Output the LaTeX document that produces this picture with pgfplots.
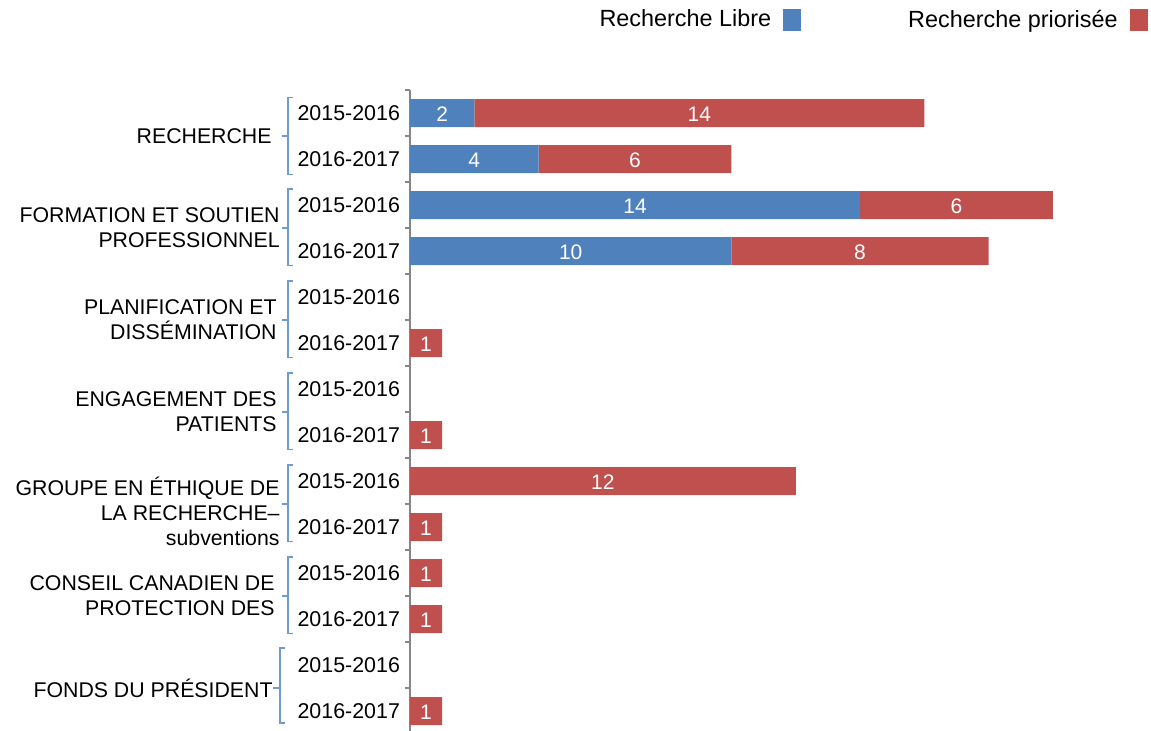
\documentclass[border=0pt]{standalone}
\usepackage{fontspec}
\setmainfont{Liberation Sans}
\usepackage{pgfplots}
\pgfplotsset{compat=1.18}
\definecolor{libre}{HTML}{4F81BD}
\definecolor{prio}{HTML}{C0504D}
\definecolor{brkblue}{HTML}{6F9BD3}
\definecolor{axgray}{HTML}{868686}

\tikzset{
  grplabel/.style={anchor=east, align=right, inner sep=0pt, font=\fontsize{10.65}{12.5}\selectfont},
  barlabel/.style={white, inner sep=0pt, yshift=-0.8pt, font=\fontsize{10.5}{12}\selectfont},
  brkline/.style={brkblue, line width=0.6pt},
}

\begin{document}
\begin{tikzpicture}
\useasboundingbox (0pt,0pt) rectangle (575.5pt,-365pt);
\begin{axis}[
    at={(205pt,-45pt)}, anchor=north west,
    scale only axis, width=370.5pt, height=322pt,
    xbar stacked, bar width=14pt,
    xmin=0, xmax=23.05,
    ymin=-0.5, ymax=13.5, y dir=reverse,
    axis x line=none, axis y line*=left,
    axis line style={axgray, line width=0.8pt},
    tick align=outside,
    ytick={0,...,13},
    yticklabels={2015-2016,2016-2017,2015-2016,2016-2017,2015-2016,2016-2017,2015-2016,
                 2016-2017,2015-2016,2016-2017,2015-2016,2016-2017,2015-2016,2016-2017},
    minor ytick={-0.5,0.5,...,13.5},
    major tick length=0pt, minor tick length=2.5pt,
    tick style={axgray, line width=0.8pt},
    yticklabel style={font=\fontsize{10.7}{12}\selectfont, xshift=-1.5pt},
    clip=false,
    legend columns=2,
    legend plot pos=right,
    legend image code/.code={\fill[#1] (0pt,-5.5pt) rectangle (9pt,5.5pt);},
    legend style={draw=none, fill=none, at={(1,1.1265)}, anchor=north east, inner sep=0pt,
        xshift=-1.5pt, nodes={inner sep=0pt},
        font=\fontsize{11.7}{13}\selectfont,
        /tikz/every odd column/.append style={column sep=6pt},
        /tikz/every even column/.append style={column sep=53.5pt}},
]
\addplot[fill=libre, draw=none] coordinates {
    (2,0) (4,1) (14,2) (10,3) (0,4) (0,5) (0,6)
    (0,7) (0,8) (0,9) (0,10) (0,11) (0,12) (0,13)
};
\addlegendentry{Recherche Libre}
\addplot[fill=prio, draw=none] coordinates {
    (14,0) (6,1) (6,2) (8,3) (0,4) (1,5) (0,6)
    (1,7) (12,8) (1,9) (1,10) (1,11) (0,12) (1,13)
};
\addlegendentry{Recherche priorisée}

% anchor points for the value labels (segment centres)
\coordinate (v1) at (axis cs:1,0);
\coordinate (v2) at (axis cs:9,0);
\coordinate (v3) at (axis cs:2,1);
\coordinate (v4) at (axis cs:7,1);
\coordinate (v5) at (axis cs:7,2);
\coordinate (v6) at (axis cs:17,2);
\coordinate (v7) at (axis cs:5,3);
\coordinate (v8) at (axis cs:14,3);
\coordinate (v9) at (axis cs:0.5,5);
\coordinate (v10) at (axis cs:0.5,7);
\coordinate (v11) at (axis cs:6,8);
\coordinate (v12) at (axis cs:0.5,9);
\coordinate (v13) at (axis cs:0.5,10);
\coordinate (v14) at (axis cs:0.5,11);
\coordinate (v15) at (axis cs:0.5,13);

% group brackets
\draw[brkline] ([xshift=-58.5pt]axis cs:0,-0.33) -- ([xshift=-61pt]axis cs:0,-0.33) -- ([xshift=-61pt]axis cs:0,1.33) -- ([xshift=-58.5pt]axis cs:0,1.33);
\draw[brkline] ([xshift=-61pt]axis cs:0,0.5) -- ([xshift=-64pt]axis cs:0,0.5);
\draw[brkline] ([xshift=-58.5pt]axis cs:0,1.65) -- ([xshift=-61pt]axis cs:0,1.65) -- ([xshift=-61pt]axis cs:0,3.32) -- ([xshift=-58.5pt]axis cs:0,3.32);
\draw[brkline] ([xshift=-61pt]axis cs:0,2.5) -- ([xshift=-64pt]axis cs:0,2.5);
\draw[brkline] ([xshift=-58.5pt]axis cs:0,3.65) -- ([xshift=-61pt]axis cs:0,3.65) -- ([xshift=-61pt]axis cs:0,5.32) -- ([xshift=-58.5pt]axis cs:0,5.32);
\draw[brkline] ([xshift=-61pt]axis cs:0,4.5) -- ([xshift=-64pt]axis cs:0,4.5);
\draw[brkline] ([xshift=-58.5pt]axis cs:0,5.65) -- ([xshift=-61pt]axis cs:0,5.65) -- ([xshift=-61pt]axis cs:0,7.32) -- ([xshift=-58.5pt]axis cs:0,7.32);
\draw[brkline] ([xshift=-61pt]axis cs:0,6.5) -- ([xshift=-64pt]axis cs:0,6.5);
\draw[brkline] ([xshift=-58.5pt]axis cs:0,7.65) -- ([xshift=-61pt]axis cs:0,7.65) -- ([xshift=-61pt]axis cs:0,9.32) -- ([xshift=-58.5pt]axis cs:0,9.32);
\draw[brkline] ([xshift=-61pt]axis cs:0,8.5) -- ([xshift=-64pt]axis cs:0,8.5);
\draw[brkline] ([xshift=-58.5pt]axis cs:0,9.65) -- ([xshift=-61pt]axis cs:0,9.65) -- ([xshift=-61pt]axis cs:0,11.32) -- ([xshift=-58.5pt]axis cs:0,11.32);
\draw[brkline] ([xshift=-61pt]axis cs:0,10.5) -- ([xshift=-64pt]axis cs:0,10.5);
\draw[brkline] ([xshift=-62.5pt]axis cs:0,11.63) -- ([xshift=-65pt]axis cs:0,11.63) -- ([xshift=-65pt]axis cs:0,13.26) -- ([xshift=-62.5pt]axis cs:0,13.26);
\draw[brkline] ([xshift=-65pt]axis cs:0,12.5) -- ([xshift=-68.5pt]axis cs:0,12.5);

% group labels
\node[grplabel] at ([xshift=-69pt]axis cs:0,0.5) {RECHERCHE};
\node[grplabel] at ([xshift=-65pt]axis cs:0,2.5) {FORMATION ET SOUTIEN\\PROFESSIONNEL};
\node[grplabel] at ([xshift=-66.5pt]axis cs:0,4.5) {PLANIFICATION ET\\DISSÉMINATION};
\node[grplabel] at ([xshift=-66.5pt]axis cs:0,6.5) {ENGAGEMENT DES\\PATIENTS};
\node[grplabel] at ([xshift=-65pt]axis cs:0,8.66) {GROUPE EN ÉTHIQUE DE\\LA RECHERCHE–\\subventions};
\node[grplabel] at ([xshift=-67.5pt]axis cs:0,10.5) {CONSEIL CANADIEN DE\\PROTECTION DES};
\node[grplabel] at ([xshift=-68.5pt]axis cs:0,12.5) {FONDS DU PRÉSIDENT};
\end{axis}
% value labels, drawn over the bars
\node[barlabel] at (v1) {2};
\node[barlabel] at (v2) {14};
\node[barlabel] at (v3) {4};
\node[barlabel] at (v4) {6};
\node[barlabel] at (v5) {14};
\node[barlabel] at (v6) {6};
\node[barlabel] at (v7) {10};
\node[barlabel] at (v8) {8};
\node[barlabel] at (v9) {1};
\node[barlabel] at (v10) {1};
\node[barlabel] at (v11) {12};
\node[barlabel] at (v12) {1};
\node[barlabel] at (v13) {1};
\node[barlabel] at (v14) {1};
\node[barlabel] at (v15) {1};
\end{tikzpicture}
\end{document}
